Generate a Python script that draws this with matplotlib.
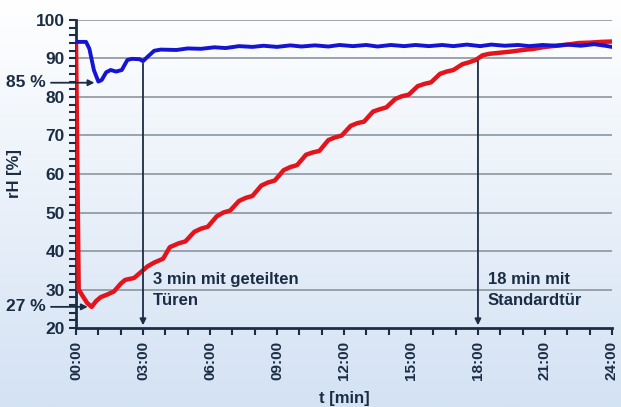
import numpy as np
import matplotlib
matplotlib.use("Agg")
import matplotlib.pyplot as plt

plt.rcParams['font.family'] = ['Liberation Sans', 'DejaVu Sans']

# ============= DATA =============
# red: standard door (minutes, rH %)
red_t = [0, 0.12, 0.3, 0.5, 0.7, 0.9, 1.1, 1.4, 1.7, 2.0, 2.2, 2.6, 2.9, 3.2, 3.5, 3.9,
         4.2, 4.6, 4.9, 5.3, 5.6, 5.9, 6.3, 6.6, 6.9, 7.3, 7.6, 7.9, 8.3, 8.6, 8.9,
         9.3, 9.6, 9.9, 10.3, 10.6, 10.9, 11.3, 11.6, 11.9, 12.3, 12.6, 12.9, 13.3,
         13.6, 13.9, 14.3, 14.6, 14.9, 15.3, 15.6, 15.9, 16.3, 16.6, 16.9, 17.3,
         17.6, 17.9, 18.2, 18.5, 19.0, 19.5, 20.0, 20.5, 21.0, 21.5, 22.0, 22.5,
         23.0, 23.5, 24.0]
red_rh = [94, 30, 28.3, 26.5, 25.5, 27.0, 28.0, 28.7, 29.5, 31.5, 32.5, 33.0, 34.5,
          36.0, 37.0, 38.0, 41.0, 42.0, 42.5, 45.0, 45.8, 46.3, 49.0, 50.0, 50.5,
          53.0, 53.8, 54.3, 57.0, 57.8, 58.3, 61.0, 61.8, 62.3, 65.0, 65.6, 66.0,
          68.8, 69.5, 70.0, 72.5, 73.2, 73.6, 76.2, 76.8, 77.3, 79.5, 80.2, 80.6,
          82.8, 83.4, 83.8, 86.0, 86.6, 87.0, 88.5, 89.0, 89.6, 90.8, 91.2, 91.5,
          91.8, 92.2, 92.5, 93.0, 93.3, 93.6, 94.0, 94.1, 94.3, 94.4]

# blue: split doors
blue_t = [0, 0.45, 0.6, 0.8, 1.0, 1.15, 1.35, 1.55, 1.8, 2.05, 2.3, 2.5, 2.85, 3.0,
          3.2, 3.5, 3.8, 4.5, 5.0, 5.6, 6.2, 6.7, 7.3, 7.9, 8.4, 9.0, 9.6, 10.1,
          10.7, 11.3, 11.8, 12.4, 13.0, 13.5, 14.1, 14.7, 15.2, 15.8, 16.4, 16.9,
          17.5, 18.1, 18.6, 19.2, 19.8, 20.3, 20.9, 21.5, 22.0, 22.6, 23.2, 23.7, 24.0]
blue_rh = [94.3, 94.3, 92.5, 87.0, 84.0, 84.4, 86.4, 87.0, 86.6, 87.0, 89.6, 89.9,
           89.8, 89.3, 90.4, 92.0, 92.3, 92.2, 92.6, 92.5, 92.9, 92.7, 93.2, 93.0,
           93.3, 93.0, 93.4, 93.1, 93.4, 93.1, 93.5, 93.2, 93.5, 93.1, 93.5, 93.2,
           93.5, 93.2, 93.5, 93.2, 93.6, 93.2, 93.6, 93.3, 93.5, 93.2, 93.5, 93.3,
           93.6, 93.3, 93.7, 93.3, 93.0]

x_ticks = [0, 3, 6, 9, 12, 15, 18, 21, 24]
x_labels = ["00:00", "03:00", "06:00", "09:00", "12:00", "15:00", "18:00", "21:00", "24:00"]
y_ticks = [20, 30, 40, 50, 60, 70, 80, 90, 100]

dark = "#1b2d45"

# ============= FIGURE =============
fig = plt.figure(figsize=(6.21, 4.07), dpi=100)

# light gradient background
bg = fig.add_axes([0, 0, 1, 1], zorder=-10)
grad = np.linspace(0, 1, 256).reshape(-1, 1)
cmap = matplotlib.colors.LinearSegmentedColormap.from_list("bg", ["#ffffff", "#d4e2f4"])
bg.imshow(grad, aspect="auto", cmap=cmap, extent=[0, 1, 0, 1])
bg.axis("off")

ax = fig.add_axes([0.1224, 0.194, 0.863, 0.757])
ax.patch.set_alpha(0)

for yv in y_ticks[1:]:
    ax.axhline(yv, color="#8c969e", lw=1.2, zorder=1)

ax.plot(red_t, red_rh, color="#e3141b", lw=3.2, solid_joinstyle="round", zorder=3)
ax.plot(blue_t, blue_rh, color="#1414d2", lw=2.8, solid_joinstyle="round", zorder=4)

ax.set_xlim(0, 24)
ax.set_ylim(20, 100)
ax.set_xticks(x_ticks)
ax.set_xticklabels(x_labels, rotation=90, fontsize=11, fontweight="bold", color=dark)
ax.set_xticks(np.arange(0, 25, 1), minor=True)
ax.set_yticks(y_ticks)
ax.set_yticklabels([str(v) for v in y_ticks], fontsize=12.5, fontweight="bold", color=dark)
ax.set_yticks(np.arange(20, 101, 2), minor=True)
ax.tick_params(axis="x", which="both", direction="out", length=5, width=1.5, color=dark, pad=4)
ax.tick_params(axis="y", which="both", direction="out", length=5, width=1.5, color=dark, pad=3)

for s in ["top", "right"]:
    ax.spines[s].set_visible(False)
for s in ["left", "bottom"]:
    ax.spines[s].set_color(dark)
    ax.spines[s].set_linewidth(2)

ax.set_ylabel("rH [%]", fontsize=12, fontweight="bold", color=dark, labelpad=10)
ax.set_xlabel("t [min]", fontsize=12, fontweight="bold", color=dark, labelpad=8)

# vertical markers
arrow_kw = dict(arrowstyle="-|>", color=dark, lw=1.3, mutation_scale=9)
ax.annotate("", xy=(3, 20), xytext=(3, 89.4), arrowprops=arrow_kw, zorder=5)
ax.annotate("", xy=(18, 20), xytext=(18, 90.0), arrowprops=arrow_kw, zorder=5)

ax.text(3.45, 34.5, "3 min mit geteilten\nTüren", fontsize=12, fontweight="bold",
        color=dark, va="top", linespacing=1.45)
ax.text(18.45, 34.5, "18 min mit\nStandardtür", fontsize=12, fontweight="bold",
        color=dark, va="top", linespacing=1.45)

# level pointers on the left
ax.annotate("85 %", xy=(0.95, 83.7), xytext=(-3.15, 83.7), arrowprops=arrow_kw,
            fontsize=12.5, fontweight="bold", color=dark, va="center", ha="left",
            annotation_clip=False)
ax.annotate("27 %", xy=(0.65, 25.5), xytext=(-3.15, 25.5), arrowprops=arrow_kw,
            fontsize=12.5, fontweight="bold", color=dark, va="center", ha="left",
            annotation_clip=False)

fig.savefig("out.png", dpi=100)
